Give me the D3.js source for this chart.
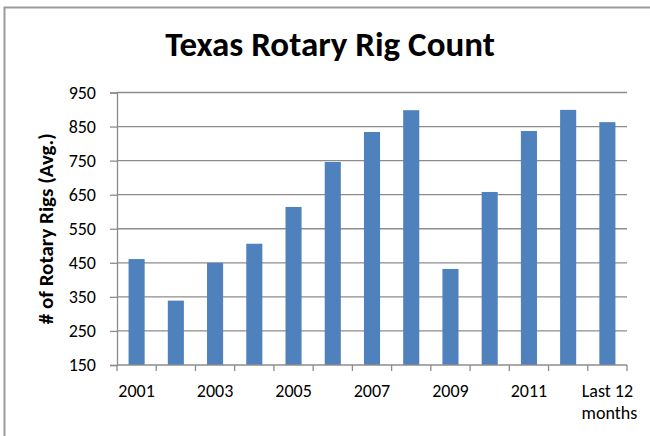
<!DOCTYPE html>
<html>
<head>
<meta charset="utf-8">
<script src="https://cdn.jsdelivr.net/npm/d3@7"></script>
<style>
  body { margin: 0; background: #fff; }
  text { font-family: Carlito, Calibri, "Open Sans", sans-serif; }
</style>
</head>
<body>
<div id="chart"></div>
<script>
// data
const categories = ["2001", "2002", "2003", "2004", "2005", "2006", "2007",
                    "2008", "2009", "2010", "2011", "2012", "Last 12 months"];
const rigCounts = [461, 339, 450, 506, 614, 746, 834, 898, 432, 658, 837, 899, 863];
const yTicks = [150, 250, 350, 450, 550, 650, 750, 850, 950];
const shownLabels = ["2001", "2003", "2005", "2007", "2009", "2011", "Last 12 months"];

const width = 650, height = 436;
const margin = { top: 92.5, right: 23, bottom: 71, left: 117 };

const svg = d3.select("#chart").append("svg")
    .attr("width", width)
    .attr("height", height);

// outer chart border (runs off the right and bottom)
svg.append("rect")
    .attr("x", 4.5).attr("y", 7.5)
    .attr("width", 660).attr("height", 450)
    .attr("fill", "none")
    .attr("stroke", "#9a9a9a")
    .attr("stroke-width", 2);

const x = d3.scaleBand()
    .domain(categories)
    .range([margin.left, width - margin.right])
    .paddingInner(0.59)
    .paddingOuter(0.295);

const y = d3.scaleLinear()
    .domain([150, 950])
    .range([height - margin.bottom, margin.top]);

// gridlines
svg.append("g")
    .selectAll("line")
    .data(yTicks.slice(1))
    .join("line")
    .attr("x1", margin.left).attr("x2", width - margin.right)
    .attr("y1", d => y(d)).attr("y2", d => y(d))
    .attr("stroke", "#8c8c8c")
    .attr("stroke-width", 1.3);

// bars
svg.append("g")
    .selectAll("rect")
    .data(rigCounts)
    .join("rect")
    .attr("x", (d, i) => x(categories[i]))
    .attr("y", d => y(d))
    .attr("width", x.bandwidth())
    .attr("height", d => y(150) - y(d))
    .attr("fill", "#4f81bd");

// y axis
const yAxis = svg.append("g")
    .attr("transform", `translate(${margin.left},0)`)
    .call(d3.axisLeft(y).tickValues(yTicks).tickSize(7).tickPadding(14));
yAxis.select(".domain").attr("stroke", "#8c8c8c").attr("stroke-width", 1.3);
yAxis.selectAll(".tick line").attr("stroke", "#8c8c8c").attr("stroke-width", 1.3);
yAxis.selectAll(".tick text")
    .attr("font-size", 18)
    .attr("fill", "#000")
    .attr("font-family", "Carlito, Calibri, 'Open Sans', sans-serif");

// x axis: ticks at category boundaries
const step = x.step();
const xEdges = d3.range(categories.length + 1).map(i => margin.left + i * step);
const xAxisG = svg.append("g");
xAxisG.append("line")
    .attr("x1", margin.left).attr("x2", width - margin.right)
    .attr("y1", y(150)).attr("y2", y(150))
    .attr("stroke", "#8c8c8c").attr("stroke-width", 1.3);
xAxisG.selectAll(".edge")
    .data(xEdges)
    .join("line")
    .attr("class", "edge")
    .attr("x1", d => d).attr("x2", d => d)
    .attr("y1", y(150)).attr("y2", y(150) + 6)
    .attr("stroke", "#8c8c8c").attr("stroke-width", 1.3);

const labels = xAxisG.selectAll(".lbl")
    .data(shownLabels)
    .join("text")
    .attr("class", "lbl")
    .attr("text-anchor", "middle")
    .attr("font-size", 18)
    .attr("fill", "#000")
    .attr("transform", d => `translate(${x(d) + x.bandwidth() / 2},${y(150) + 32})`);
labels.each(function(d) {
    const t = d3.select(this);
    if (d === "Last 12 months") {
        t.append("tspan").attr("x", 0).attr("dy", 0).text("Last 12");
        t.append("tspan").attr("x", 2).attr("dy", 22).text("months");
    } else {
        t.text(d);
    }
});

// y axis title
svg.append("text")
    .attr("transform", `translate(53,${(margin.top + y(150)) / 2}) rotate(-90)`)
    .attr("text-anchor", "middle")
    .attr("font-size", 21)
    .attr("font-weight", "bold")
    .attr("fill", "#000")
    .text("# of Rotary Rigs (Avg.)");

// title
svg.append("text")
    .attr("x", 330)
    .attr("y", 56)
    .attr("text-anchor", "middle")
    .attr("font-size", 35)
    .attr("font-weight", "bold")
    .attr("fill", "#000")
    .text("Texas Rotary Rig Count");
</script>
</body>
</html>
